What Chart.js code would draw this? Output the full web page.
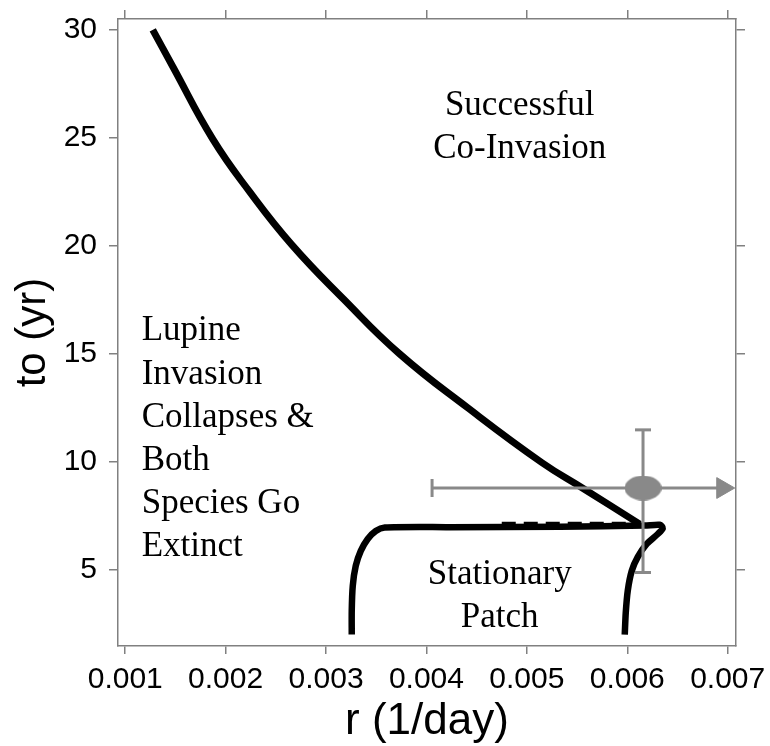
<!DOCTYPE html>
<html>
<head>
<meta charset="utf-8">
<script src="https://cdn.jsdelivr.net/npm/chart.js@4"></script>
<style>
  html, body { margin: 0; padding: 0; background: #fff; }
  canvas { display: block; }
</style>
</head>
<body>
<canvas id="c" width="770" height="746"></canvas>
<script>
// ---- data ----
const xTicks = [0.001, 0.002, 0.003, 0.004, 0.005, 0.006, 0.007];
const yTicks = [5, 10, 15, 20, 25, 30];
const X_MIN = 0.000928, X_MAX = 0.007083;
const Y_MIN = 1.49, Y_MAX = 30.5;

// boundary: Successful co-invasion vs collapse
const mainR  = [0.001274, 0.001473, 0.001872, 0.002240, 0.002658, 0.003176, 0.003734, 0.004411, 0.005148, 0.005557, 0.006125];
const mainTo = [30.00, 28.30, 24.94, 22.50, 20.06, 17.53, 15.00, 12.51, 9.98, 8.79, 7.13];

// boundary: stationary patch region
const patchR  = [0.003256, 0.003256, 0.003266, 0.003296, 0.003346, 0.003415, 0.003495, 0.003585, 0.004232, 0.005328, 0.006175, 0.006324, 0.006354, 0.006304, 0.006194, 0.006105, 0.006045, 0.006005, 0.005985, 0.005975];
const patchTo = [2.02, 3.12, 4.27, 5.20, 5.89, 6.44, 6.81, 6.97, 6.99, 7.01, 7.06, 7.10, 6.94, 6.67, 6.21, 5.61, 4.97, 4.05, 3.03, 2.02];

// dashed overlay along the plateau
const dashR  = [0.00475, 0.00612];
const dashTo = [7.15, 7.15];

// observed estimate with error bars
const obsR = 0.006157, obsTo = 8.80;
const obsRLow = 0.004056, obsRArrow = 0.006951;
const obsToLow = 4.89, obsToHigh = 11.49;

// region labels
const labels = [
  { text: 'Successful', r: 0.004929, to: 26.06, align: 'center' },
  { text: 'Co-Invasion', r: 0.004929, to: 24.06, align: 'center' },
  { text: 'Lupine', r: 0.001164, to: 15.63, align: 'left' },
  { text: 'Invasion', r: 0.001164, to: 13.63, align: 'left' },
  { text: 'Collapses &', r: 0.001164, to: 11.64, align: 'left' },
  { text: 'Both', r: 0.001164, to: 9.65, align: 'left' },
  { text: 'Species Go', r: 0.001164, to: 7.65, align: 'left' },
  { text: 'Extinct', r: 0.001164, to: 5.66, align: 'left' },
  { text: 'Stationary', r: 0.004730, to: 4.35, align: 'center' },
  { text: 'Patch', r: 0.004730, to: 2.36, align: 'center' }
];

// ---- styles ----
const GRAY = '#898989';
const AXIS = '#808080';
const SANS = '"Liberation Sans", Arial, sans-serif';
const SERIF = '"Liberation Serif", "Times New Roman", serif';

const zip = (xs, ys) => xs.map((x, i) => ({ x: x, y: ys[i] }));

const ellipse = document.createElement('canvas');
ellipse.width = 37; ellipse.height = 25;
(function () {
  const g = ellipse.getContext('2d');
  g.fillStyle = GRAY;
  g.beginPath();
  g.ellipse(18.5, 12.5, 18.5, 12.5, 0, 0, Math.PI * 2);
  g.fill();
})();

const textPlugin = {
  id: 'regionText',
  afterDatasetsDraw(chart) {
    const { ctx, scales } = chart;
    ctx.save();
    ctx.fillStyle = '#000';
    ctx.font = '35px ' + SERIF;
    ctx.textBaseline = 'alphabetic';
    labels.forEach(l => {
      ctx.textAlign = l.align;
      ctx.fillText(l.text, scales.x.getPixelForValue(l.r), scales.y.getPixelForValue(l.to));
    });
    ctx.restore();
  }
};

const setTicks = vals => axis => { axis.ticks = vals.map(v => ({ value: v })); };
const fitH = h => s => { s.height = h; s.paddingLeft = 0; s.paddingRight = 0; s.paddingTop = 0; s.paddingBottom = 0; };
const fitW = w => s => { s.width = w; s.paddingLeft = 0; s.paddingRight = 0; s.paddingTop = 0; s.paddingBottom = 0; };

const gridBase = { display: true, drawOnChartArea: false, drawTicks: true, color: AXIS, lineWidth: 1.5 };
const borderBase = { display: true, color: AXIS, width: 1.5 };

new Chart(document.getElementById('c'), {
  type: 'scatter',
  data: {
    datasets: [
      { // observed point ellipse
        data: [{ x: obsR, y: obsTo }], pointStyle: ellipse, pointRadius: 18, order: 0, showLine: false
      },
      { // horizontal error bar with arrow
        data: zip([obsRLow, obsRArrow], [obsTo, obsTo]), showLine: true,
        borderColor: GRAY, borderWidth: 3,
        pointStyle: ['line', 'triangle'], pointRotation: [90, 90], pointRadius: [9, 12],
        pointBorderColor: GRAY, pointBackgroundColor: GRAY, pointBorderWidth: [3, 1], order: 1
      },
      { // vertical error bar
        data: zip([obsR, obsR], [obsToHigh, obsToLow]), showLine: true,
        borderColor: GRAY, borderWidth: 3,
        pointStyle: 'line', pointRotation: 0, pointRadius: 8,
        pointBorderColor: GRAY, pointBorderWidth: 3, order: 1
      },
      { // main boundary curve
        data: zip(mainR, mainTo), showLine: true, borderColor: '#000', borderWidth: 7,
        tension: 0.45, pointRadius: 0, order: 3
      },
      { // stationary patch boundary
        data: zip(patchR, patchTo), showLine: true, borderColor: '#000', borderWidth: 6.5,
        tension: 0.25, pointRadius: 0, borderJoinStyle: 'round', order: 3
      },
      { // dashed overlay
        data: zip(dashR, dashTo), showLine: true, borderColor: '#000', borderWidth: 4,
        borderDash: [14, 8], pointRadius: 0, order: 3
      }
    ]
  },
  options: {
    responsive: false,
    animation: false,
    layout: { padding: 0 },
    plugins: { legend: { display: false }, tooltip: { enabled: false } },
    scales: {
      x: {
        type: 'linear', position: 'bottom', min: X_MIN, max: X_MAX,
        afterBuildTicks: setTicks(xTicks),
        afterFit: fitH(100),
        grid: Object.assign({}, gridBase, { tickLength: 8 }),
        border: borderBase,
        ticks: { callback: v => Number(v).toFixed(3), font: { family: SANS, size: 30 }, color: '#000', padding: 8, maxRotation: 0, autoSkip: false },
        title: { display: true, text: 'r (1/day)', font: { family: SANS, size: 44, lineHeight: 1 }, color: '#000', padding: { top: 0, bottom: 2 } }
      },
      x2: {
        type: 'linear', position: 'top', min: X_MIN, max: X_MAX,
        afterBuildTicks: setTicks(xTicks),
        afterFit: fitH(15),
        grid: Object.assign({}, gridBase, { tickLength: 9 }),
        border: borderBase,
        ticks: { display: false }
      },
      y: {
        type: 'linear', position: 'left', min: Y_MIN, max: Y_MAX,
        afterBuildTicks: setTicks(yTicks),
        afterFit: fitW(118),
        grid: Object.assign({}, gridBase, { tickLength: 9 }),
        border: borderBase,
        ticks: { font: { family: SANS, size: 30 }, color: '#000', padding: 12, autoSkip: false },
        title: { display: true, text: 'to (yr)', font: { family: SANS, size: 42, lineHeight: 1 }, color: '#000', padding: { top: 12, bottom: 0 } }
      },
      y2: {
        type: 'linear', position: 'right', min: Y_MIN, max: Y_MAX,
        afterBuildTicks: setTicks(yTicks),
        afterFit: fitW(34),
        grid: Object.assign({}, gridBase, { tickLength: 9, color: c => (c.tick && c.tick.value === 25) ? 'rgba(0,0,0,0)' : AXIS }),
        border: borderBase,
        ticks: { display: false }
      }
    }
  },
  plugins: [textPlugin]
});
</script>
</body>
</html>
